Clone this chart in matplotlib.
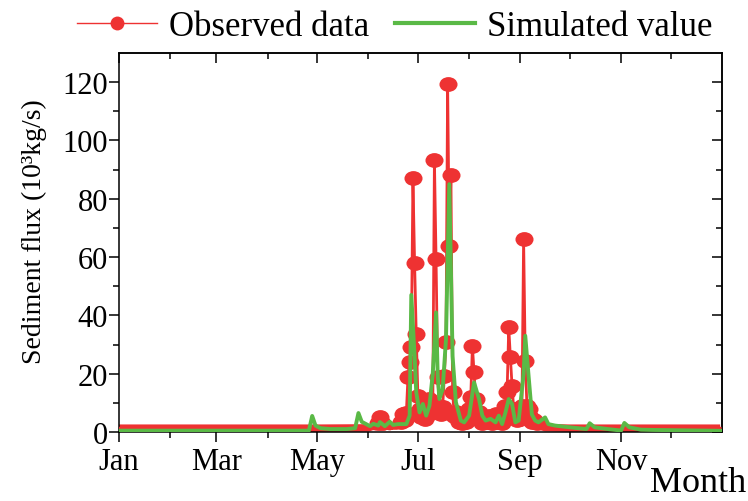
import matplotlib
matplotlib.use('Agg')
import numpy as np
import matplotlib.pyplot as plt
from matplotlib.lines import Line2D
from matplotlib.patches import Rectangle
from matplotlib.path import Path
from matplotlib.transforms import Affine2D

plt.rcParams['font.family'] = ['Liberation Serif', 'DejaVu Serif']

RED = '#ee3232'
GREEN = '#5ab946'

# day of year (0 = 1 Jan), sediment flux in 10^3 kg/s
obs_day = [0, 31, 59, 90, 120, 151] + list(range(152, 257)) + [258, 273, 304, 334, 364]
obs_val = [1.3, 1.3, 1.3, 1.3, 1.3, 1.4,
           1.6, 1.8, 2.0, 1.8, 2.2, 3.2, 5.0, 3.0, 2.0, 1.8,
           2.2, 2.0, 1.8, 2.2, 2.0, 2.4, 2.0, 2.2, 2.5, 3.5,
           6.2, 4.0, 6.5, 19.0, 24.0, 29.0, 87.0, 58.0, 33.5, 12.4,
           8.0, 5.0, 7.5, 4.5, 6.0, 9.0, 11.3, 6.5, 7.0, 93.3,
           59.2, 18.7, 9.0, 6.0, 8.5, 19.3, 30.9, 119.2, 63.8, 88.0,
           13.6, 5.6, 6.7, 4.5, 3.5, 5.5, 3.0, 4.0, 3.5, 5.0,
           8.0, 12.0, 29.5, 20.4, 11.3, 5.6, 7.0, 4.0, 3.0, 4.5,
           2.8, 3.5, 5.6, 4.0, 3.0, 4.5, 6.2, 3.5, 2.8, 4.0,
           3.0, 5.0, 9.0, 13.6, 35.9, 25.6, 15.9, 8.0, 5.0, 4.0,
           6.0, 4.5, 9.0, 66.1, 24.4, 9.0, 7.9, 5.0, 3.5, 4.0,
           2.5, 3.0, 2.2, 2.0, 1.8,
           1.5, 1.3, 1.3, 1.3, 1.3]

sim_day = [0, 115, 117, 119, 122, 128, 138, 143, 145, 147, 150, 152, 154, 157,
           158, 161, 164, 166, 169, 174, 176, 177, 179, 180, 182, 184, 186, 188,
           190, 192, 193, 194, 196, 198, 200, 202, 204, 207, 209, 212, 215, 218,
           220, 222, 225, 228, 230, 232, 234, 236, 238, 240, 242, 245, 246, 248,
           250, 252, 254, 258, 260, 264, 273, 283, 285, 288, 296, 304, 306, 309,
           316, 323, 364]
sim_val = [0.45, 0.45, 5.5, 2.2, 1.3, 1.0, 1.0, 1.3, 6.5, 3.5, 2.6, 2.0, 2.8, 2.2,
           3.4, 2.0, 3.5, 2.4, 2.7, 2.7, 5.6, 47.0, 26.0, 13.6, 6.7, 9.6, 5.6, 9.0,
           20.0, 41.0, 19.3, 11.3, 14.7, 31.8, 85.0, 26.0, 10.2, 3.9, 3.3, 5.6, 17.0, 11.3,
           5.6, 3.9, 4.5, 3.3, 5.6, 2.7, 6.7, 11.3, 9.6, 3.3, 3.9, 20.0, 33.0, 19.3,
           6.0, 3.9, 3.3, 5.0, 2.7, 2.2, 1.6, 1.0, 3.0, 1.6, 1.0, 0.5, 3.1, 1.6,
           0.8, 0.7, 0.4]

month_start = [0, 31, 59, 90, 120, 151, 181, 212, 243, 273, 304, 334]
month_label = ['Jan', 'Mar', 'May', 'Jul', 'Sep', 'Nov']
y_major = [0, 20, 40, 60, 80, 100, 120]
y_minor = [10, 30, 50, 70, 90, 110]

fig = plt.figure(figsize=(7.48, 5.02), dpi=100)
ax = fig.add_axes([0.159, 0.1375, 0.806, 0.755])

# ellipse marker, a bit wider than tall
ellipse = Path.unit_circle().transformed(Affine2D().scale(1.0, 0.82))

obs_arr = np.array(obs_val)
# thick base band of the observed series, kept only near the bottom
band, = ax.plot(obs_day, obs_val, color=RED, lw=5.4, solid_capstyle='butt', zorder=2)
band.set_clip_path(Rectangle((-10, -10), 400, 12.6, transform=ax.transData))

ax.plot(obs_day, obs_val, color=RED, lw=2.0, marker=ellipse, markersize=13,
        markeredgewidth=0, markevery=list(obs_arr >= 3), zorder=3)
ax.plot(sim_day, sim_val, color=GREEN, lw=2.8, zorder=4)

ax.set_xlim(0, 365)
ax.set_ylim(0, 130)

ax.set_xticks(month_start[::2])
ax.set_xticklabels(month_label)
ax.set_xticks(month_start[1::2], minor=True)
ax.set_yticks(y_major)
ax.set_yticks(y_minor, minor=True)

ax.tick_params(which='major', direction='out', length=7, width=1.1, labelsize=22, pad=4)
ax.tick_params(which='minor', direction='out', length=4, width=1.1)
ax.tick_params(axis='y', which='major', pad=1)

top = ax.secondary_xaxis('top')
top.set_xticks(month_start[::2])
top.set_xticks(month_start[1::2], minor=True)
top.tick_params(which='major', direction='in', length=7, width=1.1, labeltop=False)
top.tick_params(which='minor', direction='in', length=4, width=1.1)

right = ax.secondary_yaxis('right')
right.set_yticks(y_major)
right.set_yticks(y_minor, minor=True)
right.tick_params(which='major', direction='in', length=7, width=1.1, labelright=False)
right.tick_params(which='minor', direction='in', length=4, width=1.1)

for spine in list(ax.spines.values()) + list(top.spines.values()) + list(right.spines.values()):
    spine.set_linewidth(1.1)

ax.set_ylabel('Sediment flux (10³kg/s)', fontsize=20)
ax.yaxis.set_label_coords(-0.12, 0.53)

fig.text(0.998, 0.004, 'Month', fontsize=26, ha='right', va='bottom')

handles = [
    Line2D([], [], color=RED, lw=1.0, marker='o', markersize=10, markeredgewidth=0),
    Line2D([], [], color=GREEN, lw=3.0),
]
fig.legend(handles, ['Observed data', 'Simulated value'], loc='center',
           bbox_to_anchor=(0.528, 0.945), ncol=2, frameon=False, fontsize=25,
           handlelength=2.3, handletextpad=0.35, columnspacing=0.75)

fig.savefig('out.png', dpi=100)
